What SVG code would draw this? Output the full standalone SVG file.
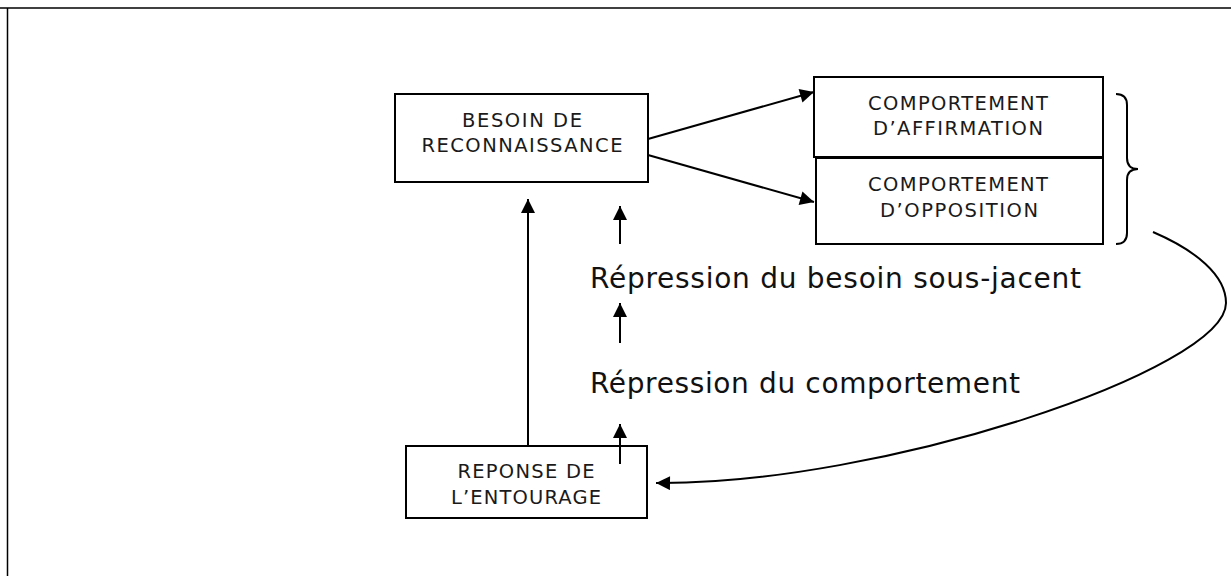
<svg xmlns="http://www.w3.org/2000/svg" width="1231" height="576" viewBox="0 0 1231 576">
<style>
.box{fill:#fff;stroke:#000;stroke-width:2}
.t{font-family:"DejaVu Sans",Verdana,sans-serif;font-size:19.5px;fill:#1a1a1a;text-anchor:middle}
.big{font-family:"DejaVu Sans",Verdana,sans-serif;font-size:28px;fill:#111}
.c{fill:none;stroke:#000;stroke-width:2}
</style>
<defs>
<marker id="ah" viewBox="0 0 10 10" refX="10" refY="5" markerWidth="16" markerHeight="14" markerUnits="userSpaceOnUse" orient="auto">
<path d="M0,0 L10,5 L0,10 z" fill="#000"/>
</marker>
</defs>
<rect width="1231" height="576" fill="#fff"/>
<line x1="0" y1="8" x2="1231" y2="8" stroke="#000" stroke-width="1.5"/>
<line x1="7.5" y1="8" x2="7.5" y2="576" stroke="#000" stroke-width="1.5"/>
<g id="besoin">
<rect class="box" x="395" y="94" width="253" height="88"/>
<text class="t" x="522" y="127" textLength="120" lengthAdjust="spacing">BESOIN DE</text>
<text class="t" x="522" y="152" textLength="201" lengthAdjust="spacing">RECONNAISSANCE</text>
</g>
<g id="affirmation">
<rect class="box" x="814" y="77" width="289" height="80"/>
<text class="t" x="958" y="110" textLength="180" lengthAdjust="spacing">COMPORTEMENT</text>
<text class="t" x="958" y="135" textLength="170" lengthAdjust="spacing">D’AFFIRMATION</text>
</g>
<g id="opposition">
<rect class="box" x="816" y="158" width="287" height="86"/>
<text class="t" x="958" y="191" textLength="180" lengthAdjust="spacing">COMPORTEMENT</text>
<text class="t" x="959" y="217" textLength="158" lengthAdjust="spacing">D’OPPOSITION</text>
</g>
<g id="reponse">
<rect class="box" x="406" y="446" width="241" height="72"/>
<text class="t" x="526" y="478" textLength="137" lengthAdjust="spacing">REPONSE DE</text>
<text class="t" x="526" y="504" textLength="150" lengthAdjust="spacing">L’ENTOURAGE</text>
</g>
<g id="brace">
<path class="c" stroke-width="1.5" d="M1116,94 Q1127,94 1127,105 L1127,158 Q1127,169 1138,169 Q1127,169 1127,180 L1127,233 Q1127,244 1116,244"/>
</g>
<g id="labels">
<text class="big" x="590" y="288" textLength="491" lengthAdjust="spacing">Répression du besoin sous-jacent</text>
<text class="big" x="590" y="393" textLength="430" lengthAdjust="spacing">Répression du comportement</text>
</g>
<g id="connectors">
<line class="c" x1="648" y1="139" x2="814" y2="92" marker-end="url(#ah)"/>
<line class="c" x1="648" y1="155" x2="814" y2="202" marker-end="url(#ah)"/>
<line class="c" x1="528" y1="446" x2="528" y2="199" marker-end="url(#ah)"/>
<line class="c" x1="620" y1="244" x2="620" y2="206" marker-end="url(#ah)"/>
<line class="c" x1="620" y1="343" x2="620" y2="303" marker-end="url(#ah)"/>
<line class="c" x1="620" y1="464" x2="620" y2="424" marker-end="url(#ah)"/>
<path class="c" d="M1153,232 C1195,250 1226,275 1226,303 C1226,370 880,485 656,483" marker-end="url(#ah)"/>
</g>
</svg>
